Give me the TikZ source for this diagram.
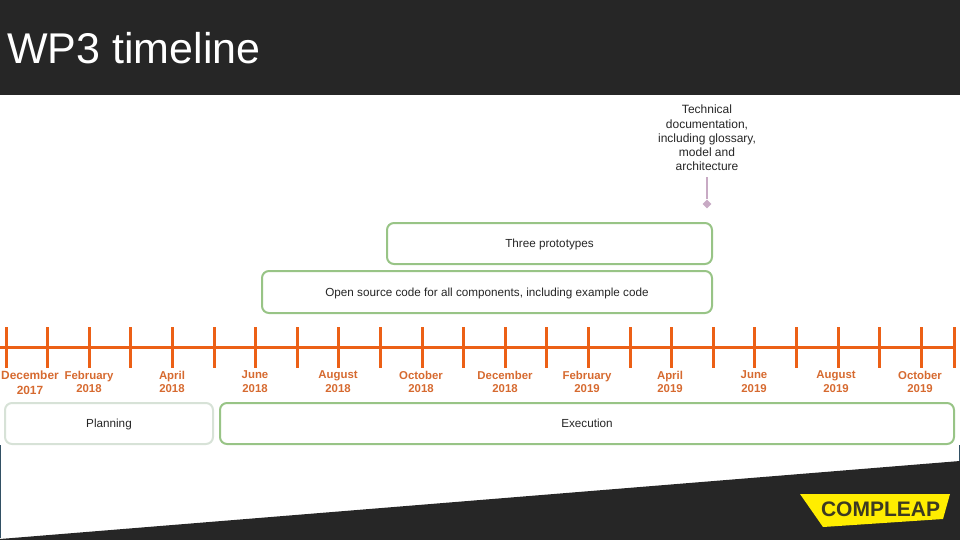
\documentclass[tikz,border=0pt]{standalone}
\usepackage{fontspec}
\setmainfont{Liberation Sans}
\usetikzlibrary{shapes.geometric}
\definecolor{cldark}{RGB}{38,38,38}
\definecolor{clorange}{RGB}{236,96,22}
\definecolor{cllabel}{RGB}{214,106,48}
\definecolor{clgreen}{RGB}{152,196,134}
\definecolor{clpale}{RGB}{215,226,215}
\definecolor{clmauve}{RGB}{200,170,196}
\definecolor{clyellow}{RGB}{255,237,0}
\definecolor{cledge}{RGB}{50,80,100}
\tikzset{
  monthlabel/.style={font=\fontsize{11.4}{13.8}\selectfont\bfseries, text=cllabel, align=center, inner sep=0pt},
  phasebox/.style={draw=#1, line width=2pt, rounded corners=7pt, fill=white, anchor=north west, outer sep=0pt,
                   font=\fontsize{11.7}{13}\selectfont, text=black!85, inner sep=0pt, text height=10pt, text depth=2pt},
  tickline/.style={draw=clorange, line width=3pt},
}
\begin{document}
\begin{tikzpicture}[x=1pt, y=-1pt]
\useasboundingbox (0,0) rectangle (960,540);
% Header band and footer wedge
\fill[cldark] (0,0) rectangle (960,95);
\fill[cldark] (0,540) -- (0,539) -- (960,461) -- (960,540) -- cycle;
\draw[cledge, line width=1pt] (0.5,445) -- (0.5,538);
\draw[cledge, line width=1pt] (959.5,445) -- (959.5,461);
\node[font=\fontsize{43}{46}\selectfont, text=white, anchor=west, inner sep=0pt] (title) at (7,48) {WP3 timeline};

% Logo
\fill[clyellow] (800,494) -- (950,494) -- (943,519) -- (823,527) -- cycle;
\node[font=\fontsize{21}{24}\selectfont\bfseries, text=cldark!90!clyellow, inner sep=0pt] (logo) at (880.5,509) {COMPLEAP};

% Timeline
\coordinate (linestart) at (0,347);
\coordinate (lineend) at (956,347);
\draw[tickline] (linestart) -- (lineend);
\foreach \k in {0,...,22} {
  \draw[tickline] ({6+41.6*\k},327) -- ({6+41.6*\k},367.5);
}
\draw[tickline] (954,327) -- (954,367.5);

% Month labels
\node[monthlabel, font=\fontsize{11.9}{15}\selectfont\bfseries] (dec17) at (30,383) {December\\2017};
\node[monthlabel] (feb18) at (89,382) {February\\2018};
\node[monthlabel] (apr18) at (172,382) {April\\2018};
\node[monthlabel] (jun18) at (255,382) {June\\2018};
\node[monthlabel] (aug18) at (338,382) {August\\2018};
\node[monthlabel] (oct18) at (421,382) {October\\2018};
\node[monthlabel] (dec18) at (505,382) {December\\2018};
\node[monthlabel] (feb19) at (587,382) {February\\2019};
\node[monthlabel] (apr19) at (670,382) {April\\2019};
\node[monthlabel] (jun19) at (754,382) {June\\2019};
\node[monthlabel] (aug19) at (836,382) {August\\2019};
\node[monthlabel] (oct19) at (920,382) {October\\2019};

% Phases
\node[phasebox=clpale, minimum width=208pt, minimum height=41pt] (planning) at (5,403) {Planning};
\node[phasebox=clgreen, minimum width=734pt, minimum height=41pt] (execution) at (220,403) {Execution};
\node[phasebox=clgreen, minimum width=450pt, minimum height=42pt] (code) at (262,271) {Open source code for all components, including example code};
\node[phasebox=clgreen, minimum width=325pt, minimum height=41pt] (proto) at (387,223) {Three prototypes};

% Milestone
\node[font=\fontsize{12}{14.2}\selectfont, text=black!85, align=center, inner sep=0pt] (docs) at (707,138) {Technical\\documentation,\\including glossary,\\model and\\architecture};
\node[fill=clmauve, diamond, inner sep=0pt, minimum size=9pt] (docsmark) at (707,204) {};
\draw[clmauve, line width=2pt, shorten <=6pt] (docs.south) -- (docsmark);
\end{tikzpicture}
\end{document}
